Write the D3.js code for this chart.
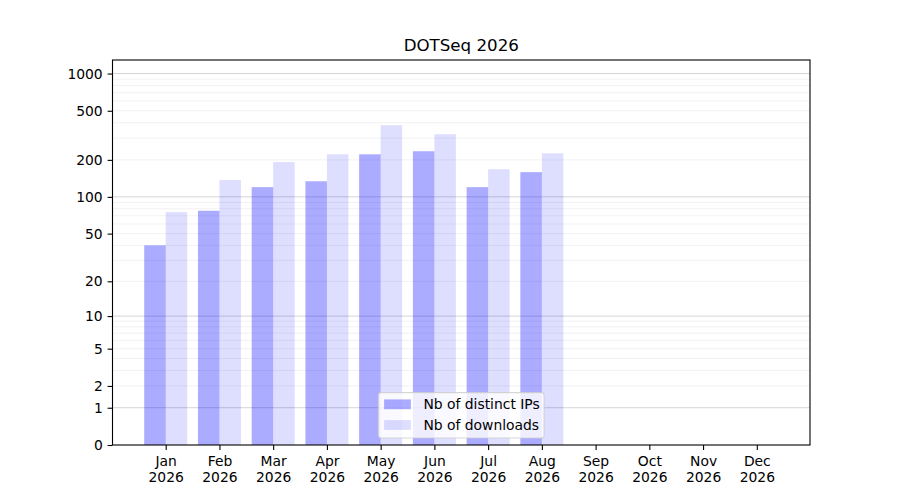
<!DOCTYPE html>
<html>
<head>
<meta charset="utf-8">
<script src="https://cdn.jsdelivr.net/npm/d3@7"></script>
<style>
  body { margin: 0; background: #fff; }
  text { font-family: "DejaVu Sans", sans-serif; fill: #000; }
</style>
</head>
<body>
<div id="chart-area"></div>
<script>
// chart data
var months = ["Jan", "Feb", "Mar", "Apr", "May", "Jun", "Jul", "Aug", "Sep", "Oct", "Nov", "Dec"];
var year = "2026";
var distinctIPs = [40, 77, 120, 134, 222, 235, 120, 159, 0, 0, 0, 0];
var downloads = [75, 137, 192, 222, 382, 323, 168, 226, 0, 0, 0, 0];
var yTicks = [0, 1, 2, 5, 10, 20, 50, 100, 200, 500, 1000];
var yMajor = [1, 10, 100, 1000];
var seriesNames = ["Nb of distinct IPs", "Nb of downloads"];

// margins
var W = 900, H = 500;
var margin = { left: 112.5, right: 90, top: 60, bottom: 55 };
var width = W - margin.left - margin.right;
var height = H - margin.top - margin.bottom;
var fs = "13.89px";

var svg = d3.select("#chart-area").append("svg")
  .attr("width", W)
  .attr("height", H);

var g = svg.append("g")
  .attr("transform", "translate(" + margin.left + "," + margin.top + ")");

// x: month index, bars 0.4 wide each side of the tick
var barW = 0.4;
var x = d3.scaleLinear()
  .domain([-0.99, 11.99])
  .range([0, width]);

// y: log10(1 + v), same shape as symlog with constant 1
var y = d3.scaleSymlog()
  .constant(1)
  .domain([0, 1287])
  .range([height, 0]);

// minor grid lines 2..9, 20..90, ...
var minor = [];
[1, 10, 100, 1000].forEach(function(d) {
  for (var k = 2; k <= 9; k++) {
    if (d * k <= 1287) minor.push(d * k);
  }
});

g.append("g").selectAll("line")
  .data(minor)
  .enter().append("line")
  .attr("x1", 0).attr("x2", width)
  .attr("y1", d => y(d)).attr("y2", d => y(d))
  .attr("stroke", "#000").attr("stroke-opacity", 0.07)
  .attr("stroke-width", 0.8);

g.append("g").selectAll("line")
  .data(yMajor)
  .enter().append("line")
  .attr("x1", 0).attr("x2", width)
  .attr("y1", d => y(d)).attr("y2", d => y(d))
  .attr("stroke", "#000").attr("stroke-opacity", 0.22)
  .attr("stroke-width", 0.8);

// bars
g.append("g").selectAll("rect")
  .data(distinctIPs)
  .enter().append("rect")
  .attr("x", (d, i) => x(i - barW))
  .attr("width", x(barW) - x(0))
  .attr("y", d => y(d))
  .attr("height", d => height - y(d))
  .attr("fill", "#0000ff").attr("fill-opacity", 0.33);

g.append("g").selectAll("rect")
  .data(downloads)
  .enter().append("rect")
  .attr("x", (d, i) => x(i))
  .attr("width", x(barW) - x(0))
  .attr("y", d => y(d))
  .attr("height", d => height - y(d))
  .attr("fill", "#0000ff").attr("fill-opacity", 0.13);

// axes
var xAxisCall = d3.axisBottom(x)
  .tickValues(d3.range(months.length))
  .tickSize(4.9).tickPadding(4.9)
  .tickFormat("");

var xAxis = g.append("g")
  .attr("transform", "translate(0," + height + ")")
  .call(xAxisCall);
xAxis.select(".domain").remove();
xAxis.selectAll(".tick line").attr("stroke", "#000").attr("stroke-width", 1.1);
xAxis.selectAll(".tick").append("text")
  .attr("text-anchor", "middle")
  .attr("font-size", fs)
  .selectAll("tspan")
  .data(i => [months[i], year])
  .enter().append("tspan")
  .attr("x", 0)
  .attr("y", (d, j) => 20.5 + j * 16.3)
  .text(d => d);

var yAxisCall = d3.axisLeft(y)
  .tickValues(yTicks)
  .tickSize(4.9).tickPadding(4.9)
  .tickFormat(d3.format("d"));

var yAxis = g.append("g").call(yAxisCall);
yAxis.select(".domain").remove();
yAxis.selectAll(".tick line").attr("stroke", "#000").attr("stroke-width", 1.1);
yAxis.selectAll(".tick text")
  .attr("font-size", fs)
  .attr("fill", "#000");

// frame
g.append("rect")
  .attr("width", width).attr("height", height)
  .attr("fill", "none").attr("stroke", "#000").attr("stroke-width", 1.1);

// title
svg.append("text")
  .attr("x", margin.left + width / 2)
  .attr("y", 51.3)
  .attr("text-anchor", "middle")
  .attr("font-size", "16.67px")
  .text("DOTSeq 2026");

// legend, lower center
var legW = 165.7, legH = 45.4;
var leg = g.append("g")
  .attr("transform", "translate(" + (width / 2 - legW / 2) + "," + (height - 7 - legH) + ")");
leg.append("rect")
  .attr("width", legW).attr("height", legH)
  .attr("rx", 2.8)
  .attr("fill", "#fff").attr("fill-opacity", 0.8)
  .attr("stroke", "#ccc").attr("stroke-opacity", 0.8)
  .attr("stroke-width", 1.1);
var legItems = leg.selectAll(".item")
  .data(seriesNames)
  .enter().append("g")
  .attr("transform", (d, i) => "translate(5.7," + (11.7 + i * 20.7) + ")");
legItems.append("rect")
  .attr("y", -4.9).attr("width", 26.8).attr("height", 9.8)
  .attr("fill", "#0000ff")
  .attr("fill-opacity", (d, i) => i == 0 ? 0.33 : 0.13);
legItems.append("text")
  .attr("x", 39.3).attr("dy", "0.35em")
  .attr("font-size", fs)
  .text(d => d);
</script>
</body>
</html>
